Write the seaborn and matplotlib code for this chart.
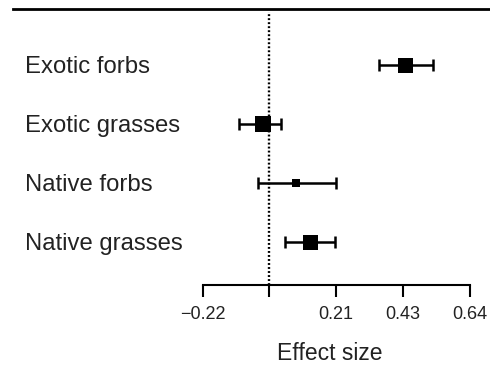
import numpy as np
import pandas as pd
import matplotlib
matplotlib.use("Agg")
import matplotlib.pyplot as plt
import matplotlib.transforms as mtransforms
import seaborn as sns

# ---- data ----
categories = ["Exotic forbs", "Exotic grasses", "Native forbs", "Native grasses"]
effect = [0.439, -0.021, 0.086, 0.132]
ci_low = [0.353, -0.097, -0.035, 0.052]
ci_high = [0.526, 0.039, 0.214, 0.213]
marker_px = [15, 16, 8, 15]          # relative weight (marker side, px)
tick_values = [-0.215, 0.0, 0.215, 0.43, 0.645]
tick_labels = ["\u22120.22", "", "0.21", "0.43", "0.64"]
xlabel = "Effect size"

sns.set_style("white")
plt.rcParams["font.family"] = ["Liberation Sans", "DejaVu Sans"]

W, H, DPI = 490, 368, 100
fig = plt.figure(figsize=(W / DPI, H / DPI), dpi=DPI)
# axes: x 13..490 px, y 9..285 px (from top)
ax = fig.add_axes([13 / W, 1 - 285 / H, (490 - 13) / W, (285 - 9) / H])

pos = np.arange(len(categories))
df = pd.DataFrame({"cat": categories, "effect": effect, "lo": ci_low,
                   "hi": ci_high, "w": marker_px, "pos": pos})

# error bars
ax.errorbar(df["effect"], df["pos"],
            xerr=[df["effect"] - df["lo"], df["hi"] - df["effect"]],
            fmt="none", ecolor="black", elinewidth=1.8, capsize=4.5,
            capthick=1.8, zorder=2)

# markers (size by weight)
sizes = {w: (w * 72 / DPI) ** 2 for w in set(marker_px)}
sns.scatterplot(data=df, x="effect", y="pos", size="w", sizes=sizes,
                marker="s", color="black", linewidth=0, legend=False,
                ax=ax, zorder=3)

# zero reference line
ax.axvline(0, ymin=0, ymax=(285 - 12) / (285 - 9), color="black",
           linewidth=1.7, linestyle=(0, (0.8, 0.9)), zorder=1)

# scales
px_per_unit = 310.5
zero_px = 269.3
ax.set_xlim((13 - zero_px) / px_per_unit, (490 - zero_px) / px_per_unit)
row_px = 59.0
first_px = 65.0
ax.set_ylim((285 - first_px) / row_px, (9 - first_px) / row_px)

# category labels inside axes, left aligned
trans = mtransforms.blended_transform_factory(ax.transAxes, ax.transData)
for p, c in zip(pos, categories):
    ax.text((25 - 13) / (490 - 13), p + 0.03, c, transform=trans,
            ha="left", va="center", fontsize=17.2, color="#222222")

ax.set_yticks([])
ax.set_ylabel("")
ax.set_xticks(tick_values)
ax.set_xticklabels(tick_labels, fontsize=13, color="#222222")
ax.tick_params(axis="x", direction="out", length=8.5, width=1.5, pad=6.5,
               bottom=True, color="black")
ax.set_xlabel("")
fig.text(330 / W, 1 - 354 / H, xlabel, ha="center", va="center",
         fontsize=16.5, color="#222222")

for s in ["left", "right"]:
    ax.spines[s].set_visible(False)
ax.spines["top"].set_linewidth(2.0)
ax.spines["top"].set_color("black")
ax.spines["bottom"].set_bounds(tick_values[0], tick_values[-1])
ax.spines["bottom"].set_linewidth(1.5)
ax.spines["bottom"].set_color("black")
ax.set_facecolor("white")
fig.patch.set_facecolor("white")

fig.savefig("out.png", dpi=DPI)
